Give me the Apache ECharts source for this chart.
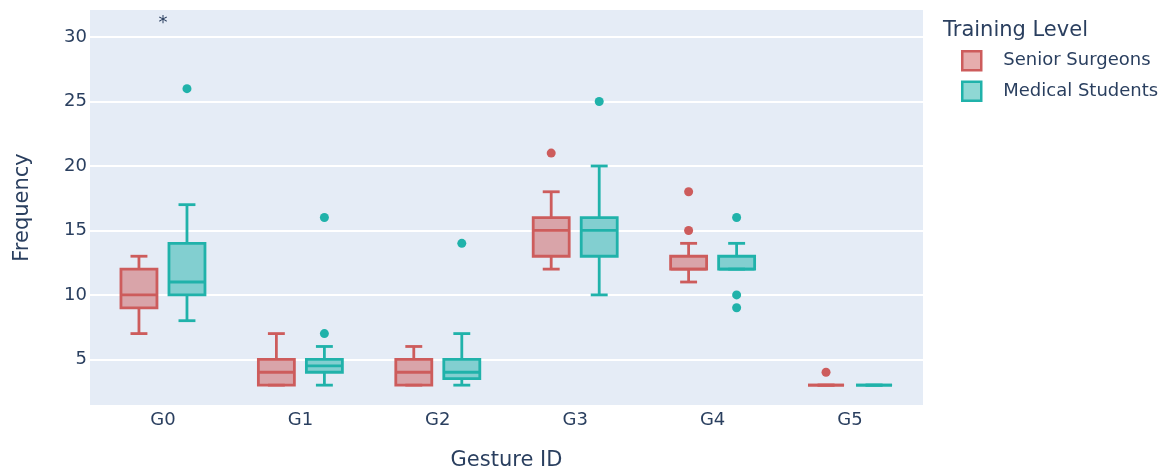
<!DOCTYPE html>
<html>
<head>
<meta charset="utf-8">
<script src="https://cdn.jsdelivr.net/npm/echarts@6/dist/echarts.min.js"></script>
<style>html,body{margin:0;padding:0;background:#fff;}#c{width:1166px;height:472px;}</style>
</head>
<body>
<div id="c"></div>
<script>
const categories = ['G0', 'G1', 'G2', 'G3', 'G4', 'G5'];
const seriesNames = ['Senior Surgeons', 'Medical Students'];
// [min, Q1, median, Q3, max] per category
const seniorBoxes = [[7, 9, 10, 12, 13], [3, 3, 4, 5, 7], [3, 3, 4, 5, 6], [12, 13, 15, 16, 18], [11, 12, 12, 13, 14], [3, 3, 3, 3, 3]];
const studentBoxes = [[8, 10, 11, 14, 17], [3, 4, 4.5, 5, 6], [3, 3.5, 4, 5, 7], [10, 13, 15, 16, 20], [12, 12, 12, 13, 14], [3, 3, 3, 3, 3]];
// [category index, value]
const seniorOutliers = [[3, 21], [4, 18], [4, 15], [5, 4]];
const studentOutliers = [[0, 26], [1, 7], [1, 16], [2, 14], [3, 25], [4, 16], [4, 10], [4, 9]];
const annotations = [[0, 31.1, '*']];
const yMin = 1.46, yMax = 32.1;
const xMin = -0.531, xMax = 5.531;

const FONT = 'DejaVu Sans';
const TXT = '#2a3f5f';
const colors = [
  { stroke: '#CD5C5C', fill: 'rgba(205,92,92,0.5)' },
  { stroke: '#20B2AA', fill: 'rgba(32,178,170,0.5)' }
];
const OFF = 0.1747, HALF = 0.131;
const LW = 2.8;

function boxRenderer(k) {
  const sign = k === 0 ? -1 : 1;
  const c = colors[k];
  return function (params, api) {
    const i = api.value(0);
    const bw = api.size([1, 0])[0];
    const cx = api.coord([i, 0])[0] + sign * OFF * bw;
    const hw = HALF * bw, cw = hw * 0.47;
    const y = v => api.coord([i, v])[1];
    const mn = y(api.value(1)), q1 = y(api.value(2)), md = y(api.value(3)), q3 = y(api.value(4)), mx = y(api.value(5));
    const ls = { stroke: c.stroke, lineWidth: LW };
    return {
      type: 'group',
      children: [
        { type: 'line', shape: { x1: cx, y1: q1, x2: cx, y2: mn }, style: ls },
        { type: 'line', shape: { x1: cx, y1: q3, x2: cx, y2: mx }, style: ls },
        { type: 'line', shape: { x1: cx - cw, y1: mn, x2: cx + cw, y2: mn }, style: ls },
        { type: 'line', shape: { x1: cx - cw, y1: mx, x2: cx + cw, y2: mx }, style: ls },
        { type: 'rect', shape: { x: cx - hw, y: q3, width: 2 * hw, height: q1 - q3 }, style: { fill: c.fill, stroke: c.stroke, lineWidth: LW } },
        { type: 'line', shape: { x1: cx - hw, y1: md, x2: cx + hw, y2: md }, style: ls }
      ]
    };
  };
}
function outlierRenderer(k) {
  const sign = k === 0 ? -1 : 1;
  const c = colors[k];
  return function (params, api) {
    const i = api.value(0);
    const bw = api.size([1, 0])[0];
    const p = api.coord([i, api.value(1)]);
    return { type: 'circle', shape: { cx: p[0] + sign * OFF * bw, cy: p[1], r: 4.5 }, style: { fill: c.stroke } };
  };
}

const chart = echarts.init(document.getElementById('c'), null, { renderer: 'canvas' });
const boxData = (arr) => arr.map((b, i) => [i].concat(b));
chart.setOption({
  animation: false,
  textStyle: { fontFamily: FONT },
  title: { text: 'Training Level', left: 943, top: 19, padding: 0, textStyle: { fontSize: 21, lineHeight: 24, fontWeight: 'normal', color: TXT, fontFamily: FONT } },
  legend: {
    orient: 'vertical', left: 961, top: 50, padding: 0, itemWidth: 19, itemHeight: 19, itemGap: 9,
    icon: 'rect', selectedMode: false,
    textStyle: { fontSize: 18, lineHeight: 20, color: TXT, fontFamily: FONT, padding: [0, 0, 0, 17] },
    data: [
      { name: seriesNames[0], itemStyle: { color: colors[0].fill, borderColor: colors[0].stroke, borderWidth: 2.5 } },
      { name: seriesNames[1], itemStyle: { color: colors[1].fill, borderColor: colors[1].stroke, borderWidth: 2.5 } }
    ]
  },
  grid: { left: 90, right: 243, top: 10, bottom: 67, show: true, backgroundColor: '#E5ECF6', borderWidth: 0, containLabel: false, outerBoundsMode: 'none' },
  xAxis: {
    type: 'value', min: xMin, max: xMax, splitNumber: 6,
    axisLine: { show: false }, axisTick: { show: false }, splitLine: { show: false },
    axisLabel: {
      color: TXT, fontSize: 18, margin: 6, fontFamily: FONT, showMinLabel: false, showMaxLabel: false,
      formatter: v => (Number.isInteger(v) && categories[v] !== undefined) ? categories[v] : ''
    },
    name: 'Gesture ID', nameLocation: 'middle', nameGap: 45,
    nameTextStyle: { color: TXT, fontSize: 21, fontFamily: FONT }
  },
  yAxis: {
    type: 'value', min: yMin, max: yMax,
    axisLine: { show: false }, axisTick: { show: false },
    splitLine: { show: true, showMinLine: false, showMaxLine: false, lineStyle: { color: '#ffffff', width: 2 } },
    axisLabel: { color: TXT, fontSize: 18, margin: 3, showMinLabel: false, showMaxLabel: false, fontFamily: FONT },
    name: 'Frequency', nameLocation: 'middle', nameGap: 57,
    nameTextStyle: { color: TXT, fontSize: 21, fontFamily: FONT }
  },
  series: [
    { name: seriesNames[0], type: 'custom', renderItem: boxRenderer(0), data: boxData(seniorBoxes), encode: { x: 0, y: [1, 2, 3, 4, 5] }, itemStyle: { color: colors[0].fill, borderColor: colors[0].stroke } },
    { name: seriesNames[1], type: 'custom', renderItem: boxRenderer(1), data: boxData(studentBoxes), encode: { x: 0, y: [1, 2, 3, 4, 5] }, itemStyle: { color: colors[1].fill, borderColor: colors[1].stroke } },
    { name: seriesNames[0], type: 'custom', renderItem: outlierRenderer(0), data: seniorOutliers, encode: { x: 0, y: 1 }, itemStyle: { color: colors[0].fill, borderColor: colors[0].stroke } },
    { name: seriesNames[1], type: 'custom', renderItem: outlierRenderer(1), data: studentOutliers, encode: { x: 0, y: 1 }, itemStyle: { color: colors[1].fill, borderColor: colors[1].stroke } },
    {
      type: 'custom', data: annotations, encode: { x: 0, y: 1 },
      renderItem: function (params, api) {
        const p = api.coord([api.value(0), api.value(1)]);
        return { type: 'text', x: p[0], y: p[1], style: { text: annotations[params.dataIndex][2], fill: TXT, fontSize: 18, fontFamily: FONT, align: 'center', verticalAlign: 'middle' } };
      }
    }
  ]
});
</script>
</body>
</html>
